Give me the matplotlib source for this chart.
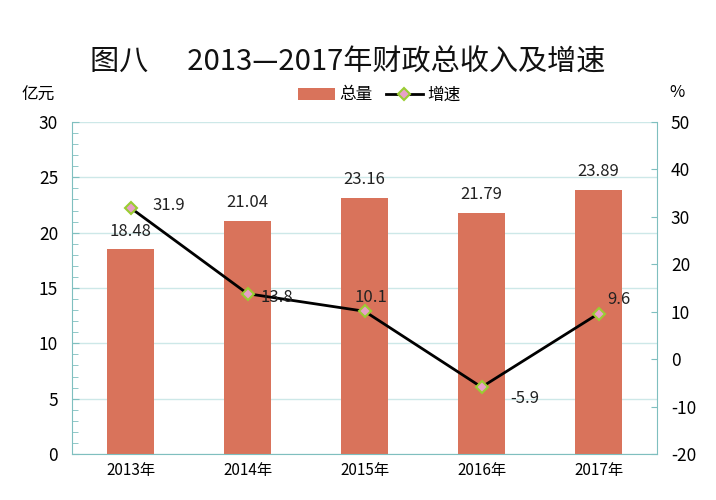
import matplotlib
matplotlib.use("Agg")
import matplotlib.pyplot as plt
from matplotlib.ticker import MultipleLocator
import numpy as np

plt.rcParams['font.family'] = ['Noto Sans CJK SC', 'DejaVu Sans']
plt.rcParams['axes.unicode_minus'] = False

years = ['2013年', '2014年', '2015年', '2016年', '2017年']
total = [18.48, 21.04, 23.16, 21.79, 23.89]
growth = [31.9, 13.8, 10.1, -5.9, 9.6]
# label offsets for the growth values (points)
growth_offsets = [(16, 2), (9, -3), (-7, 10), (21, -8), (6, 10)]

bar_color = '#D9735B'
axis_color = '#7FBFBF'
grid_color = '#CDE8E8'

fig = plt.figure(figsize=(7.16, 5.0), dpi=100)
ax = fig.add_axes([0.1006, 0.092, 0.817, 0.664])
x = np.arange(len(years))

ax.set_axisbelow(True)
ax.yaxis.grid(True, color=grid_color, linewidth=1)
bars = ax.bar(x, total, width=0.4, color=bar_color, label='总量', zorder=2)
for xi, v in zip(x, total):
    ax.annotate(f'{v:.2f}', (xi, v), xytext=(0, 7), textcoords='offset points',
                ha='center', va='bottom', fontsize=12, color='#222222')

ax.set_xlim(-0.5, len(years) - 0.5)
ax.set_ylim(0, 30)
ax.yaxis.set_major_locator(MultipleLocator(5))
ax.yaxis.set_minor_locator(MultipleLocator(1))
ax.set_xticks(x)
ax.set_xticklabels(years, fontsize=11)
ax.tick_params(axis='x', length=0, pad=6)
ax.tick_params(axis='y', which='both', direction='in', color=axis_color, labelsize=12.5, pad=10)
ax.tick_params(axis='y', which='major', length=5)
ax.tick_params(axis='y', which='minor', length=4)
for s in ['top', 'right']:
    ax.spines[s].set_visible(False)
ax.spines['left'].set_color(axis_color)
ax.spines['bottom'].set_color(axis_color)

ax2 = ax.twinx()
line, = ax2.plot(x, growth, color='black', linewidth=2, marker='D', markersize=6,
                 markerfacecolor='#E8A0C8', markeredgecolor='#9ACD32',
                 markeredgewidth=1.5, label='增速', zorder=3)
for xi, v, (dx, dy) in zip(x, growth, growth_offsets):
    ax2.annotate(f'{v:.1f}', (xi, v), xytext=(dx, dy), textcoords='offset points',
                 ha='left', va='center', fontsize=12, color='#222222')
ax2.set_ylim(-20, 50)
ax2.yaxis.set_major_locator(MultipleLocator(10))
ax2.tick_params(axis='y', direction='in', color=axis_color, length=4, labelsize=12.5, pad=10)
for s in ['top', 'left', 'bottom']:
    ax2.spines[s].set_visible(False)
ax2.spines['right'].set_color(axis_color)

fig.text(0.485, 0.875, '图八      2013—2017年财政总收入及增速', ha='center', va='center',
         fontsize=21, color='#111111')
fig.text(0.03, 0.81, '亿元', ha='left', va='center', fontsize=12)
fig.text(0.935, 0.815, '%', ha='left', va='center', fontsize=12)
fig.legend(handles=[bars, line], labels=['总量', '增速'], loc='center',
           bbox_to_anchor=(0.53, 0.81), ncol=2, frameon=False, fontsize=12,
           handlelength=2.2, handletextpad=0.3, columnspacing=0.8)

fig.savefig('out.png', dpi=100)
